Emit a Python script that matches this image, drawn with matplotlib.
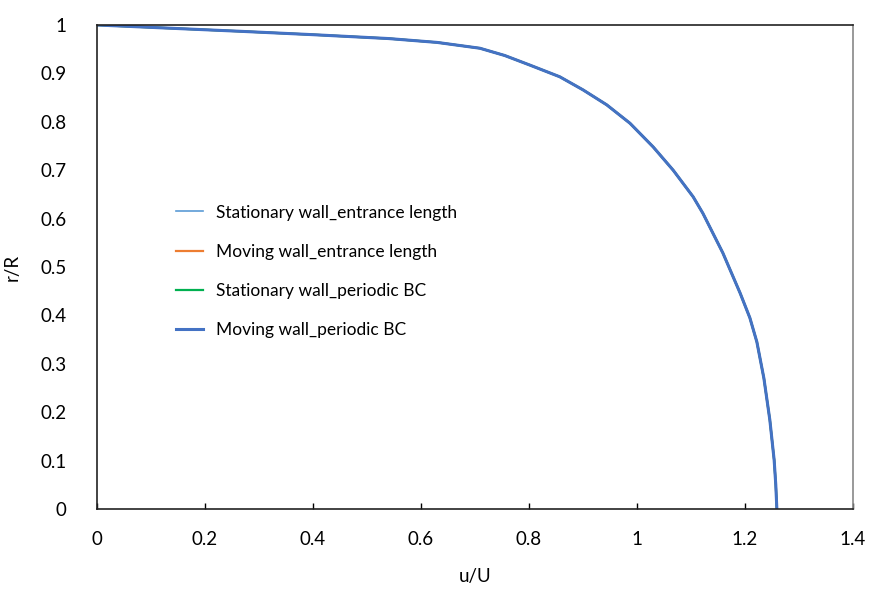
import matplotlib
matplotlib.use("Agg")
import matplotlib.pyplot as plt

# radial position r/R and velocity u/U
r_R = [1.0, 0.987, 0.980, 0.972, 0.964, 0.952, 0.937, 0.917, 0.893, 0.866,
       0.835, 0.797, 0.748, 0.700, 0.645, 0.611, 0.529, 0.446, 0.395, 0.345,
       0.270, 0.184, 0.101, 0.050, 0.0]
u_stat_entrance = [0.0, 0.265, 0.40, 0.54, 0.63, 0.709, 0.755, 0.802, 0.857, 0.900,
                   0.944, 0.987, 1.030, 1.067, 1.104, 1.122, 1.159, 1.191, 1.209, 1.222,
                   1.235, 1.246, 1.254, 1.257, 1.259]
u_mov_entrance = list(u_stat_entrance)
u_stat_periodic = list(u_stat_entrance)
u_mov_periodic = list(u_stat_entrance)

labels = ["Stationary wall_entrance length", "Moving wall_entrance length",
          "Stationary wall_periodic BC", "Moving wall_periodic BC"]
colors = ["#5B9BD5", "#ED7D31", "#00B050", "#4472C4"]
widths = [1.2, 1.6, 1.6, 2.2]

plt.rcParams["font.family"] = ["Lato", "DejaVu Sans"]

fig = plt.figure(figsize=(8.7, 5.9), dpi=100)
ax = fig.add_axes([97 / 870, 1 - 509 / 590, 756 / 870, 484 / 590])

for u, lab, c, w in zip([u_stat_entrance, u_mov_entrance, u_stat_periodic, u_mov_periodic],
                        labels, colors, widths):
    ax.plot(u, r_R, color=c, lw=w, label=lab, solid_joinstyle="round")

ax.set_xlim(0, 1.4)
ax.set_ylim(0, 1)
ax.set_xticks([0, 0.2, 0.4, 0.6, 0.8, 1, 1.2, 1.4])
ax.set_xticklabels(["0", "0.2", "0.4", "0.6", "0.8", "1", "1.2", "1.4"])
ax.set_yticks([i / 10 for i in range(11)])
ax.set_yticklabels(["0", "0.1", "0.2", "0.3", "0.4", "0.5", "0.6", "0.7", "0.8", "0.9", "1"])
ax.tick_params(axis="x", direction="in", length=4, width=1, pad=16, labelsize=13.5)
ax.tick_params(axis="y", length=0, pad=22, labelsize=13.5)

for side in ["left", "bottom", "top"]:
    ax.spines[side].set_color("#222222")
ax.spines["right"].set_color("#888888")
for s in ax.spines.values():
    s.set_linewidth(1.2)

ax.set_xlabel("u/U", fontsize=13.5, labelpad=14)
ax.set_ylabel("r/R", fontsize=13.5, labelpad=14)

ax.legend(loc="upper left", bbox_to_anchor=(0.104, 0.629), frameon=False,
          fontsize=12.5, handlelength=1.6, handletextpad=0.7, labelspacing=1.33,
          borderpad=0, borderaxespad=0)

fig.savefig("out.png", dpi=100)
